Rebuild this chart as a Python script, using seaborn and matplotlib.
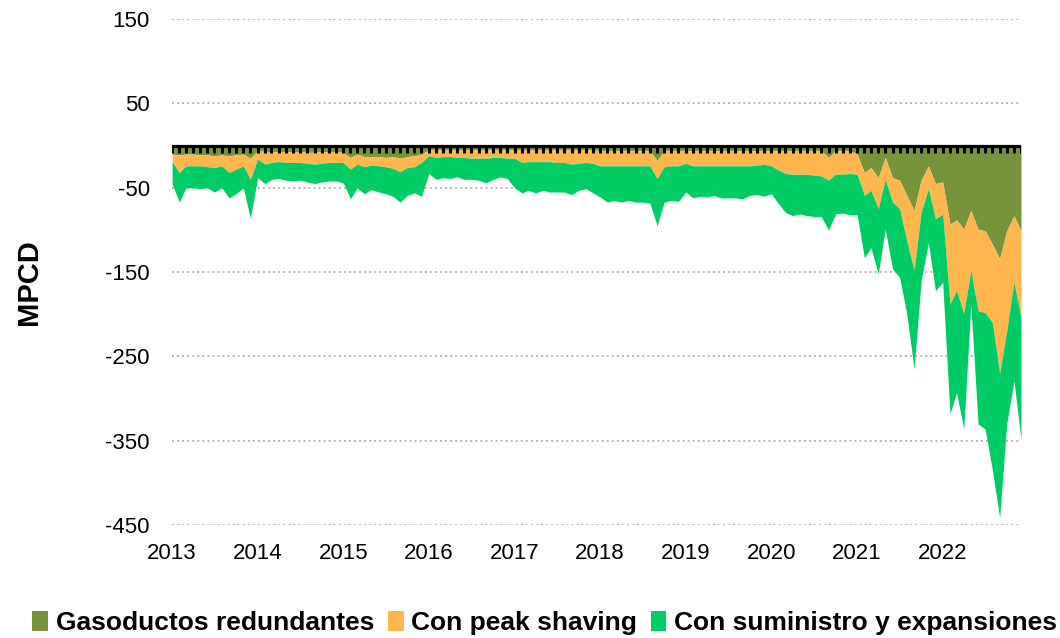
import numpy as np
import pandas as pd
import matplotlib
matplotlib.use("Agg")
import matplotlib.pyplot as plt
import seaborn as sns
from matplotlib.patches import Patch

# ---------------- data (MPCD, monthly Jan-2013 .. Dec-2022) ----------------
series_names = ["Gasoductos redundantes", "Con peak shaving", "Con suministro y expansiones"]

gasoductos_redundantes = [
    -10, -11, -10, -10, -11, -11, -12, -11, -12, -11, -10, -15,
    -6, -7, -7, -7, -7, -7, -7, -8, -8, -7, -7, -7,
    -8, -14, -10, -13, -13, -13, -14, -13, -15, -13, -12, -10,
    -5, -5, -5, -5, -5, -5, -5, -5, -5, -5, -5, -5,
    -5, -5, -5, -5, -5, -5, -5, -5, -5, -5, -5, -5,
    -6, -6, -6, -6, -6, -6, -6, -6, -18, -6, -6, -6,
    -6, -6, -6, -6, -6, -6, -6, -6, -6, -6, -6, -6,
    -6, -6, -6, -6, -6, -6, -6, -6, -14, -6, -6, -6,
    -10, -32, -26, -38, -14, -38, -41, -59, -77, -41, -24, -45,
    -43, -93, -88, -99, -77, -99, -101, -117, -134, -101, -83, -101,
]

con_peak_shaving = [
    -9, -21, -14, -14, -13, -14, -14, -13, -20, -17, -14, -25,
    -10, -15, -13, -12, -13, -13, -13, -13, -14, -14, -13, -13,
    -12, -14, -12, -12, -10, -11, -11, -14, -16, -13, -13, -10,
    -7, -9, -8, -8, -9, -9, -10, -10, -10, -9, -9, -10,
    -10, -15, -14, -14, -14, -14, -15, -15, -17, -16, -15, -16,
    -18, -18, -18, -18, -18, -18, -18, -18, -21, -19, -18, -18,
    -15, -18, -18, -18, -18, -18, -18, -18, -18, -18, -17, -16,
    -18, -23, -27, -28, -28, -28, -29, -30, -27, -28, -28, -27,
    -24, -27, -27, -37, -26, -29, -34, -54, -71, -38, -27, -42,
    -38, -95, -84, -100, -71, -97, -97, -93, -136, -119, -79, -103,
]

con_suministro_expansiones = [
    -26, -35, -26, -26, -27, -25, -29, -26, -30, -29, -26, -46,
    -22, -23, -20, -20, -21, -22, -21, -22, -23, -22, -22, -22,
    -24, -35, -28, -32, -29, -31, -32, -33, -36, -33, -31, -40,
    -21, -26, -25, -26, -23, -26, -25, -26, -29, -26, -23, -24,
    -35, -36, -34, -37, -34, -36, -35, -35, -36, -32, -31, -35,
    -37, -43, -41, -43, -41, -43, -43, -44, -56, -42, -41, -42,
    -34, -38, -36, -37, -35, -38, -38, -38, -39, -35, -35, -38,
    -33, -40, -46, -49, -47, -49, -49, -48, -59, -47, -46, -49,
    -48, -74, -68, -77, -59, -79, -81, -87, -117, -81, -64, -85,
    -81, -130, -121, -137, -40, -134, -138, -175, -171, -110, -117, -144,
]

years = ["2013", "2014", "2015", "2016", "2017", "2018", "2019", "2020", "2021", "2022"]
y_ticks = [150, 50, -50, -150, -250, -350, -450]
colors = ["#77933C", "#FFB64F", "#00CC66"]

dates = pd.date_range("2013-01-01", periods=len(gasoductos_redundantes), freq="MS")
df = pd.DataFrame({
    "fecha": dates,
    series_names[0]: gasoductos_redundantes,
    series_names[1]: con_peak_shaving,
    series_names[2]: con_suministro_expansiones,
})

# ---------------- style ----------------
sns.set_theme(style="white")
plt.rcParams["font.family"] = ["Liberation Sans", "DejaVu Sans"]
plt.rcParams["text.color"] = "black"

fig = plt.figure(figsize=(10.6, 6.38), dpi=100)
ax = fig.add_axes([0.1623, 0.177, 0.8009, 0.793])

ax.stackplot(df["fecha"], df[series_names[0]], df[series_names[1]], df[series_names[2]],
             colors=colors, linewidth=0, zorder=2)

# zero line with monthly tick dashes
ax.plot(df["fecha"], np.zeros(len(df)), color="black", lw=2.3, zorder=4,
        solid_capstyle="projecting")
ax.vlines(df["fecha"], -9, 0, color="black", lw=2.2, zorder=4)

ax.set_ylim(-450, 150)
ax.set_xlim(dates[0], dates[-1])
ax.set_yticks(y_ticks)
ax.set_yticklabels([str(v) for v in y_ticks])
year_dates = [pd.Timestamp(f"{y}-01-01") for y in years]
ax.set_xticks(year_dates)
ax.set_xticklabels(years)

ax.yaxis.grid(True, linestyle=(0, (1, 1.6)), color="#B8B8B8", lw=1.4, zorder=0)
ax.xaxis.grid(False)
sns.despine(ax=ax, left=True, bottom=True)
ax.tick_params(axis="y", length=0, pad=16, labelsize=16, labelcolor="black")
ax.tick_params(axis="x", length=0, pad=13, labelsize=16, labelcolor="black")

ax.set_ylabel("MPCD", fontsize=21, fontweight="bold", color="black")
ax.yaxis.set_label_coords(-0.152, 0.48)

handles = [Patch(facecolor=c, edgecolor="none") for c in colors]
fig.legend(handles, series_names, loc="center", bbox_to_anchor=(0.514, 0.023),
           ncol=3, frameon=False, handlelength=0.6, handleheight=0.75,
           handletextpad=0.3, columnspacing=0.5, labelcolor="black",
           prop={"family": ["Liberation Sans", "DejaVu Sans"], "weight": "bold", "size": 19})

fig.savefig("out.png", dpi=100, facecolor="white")
